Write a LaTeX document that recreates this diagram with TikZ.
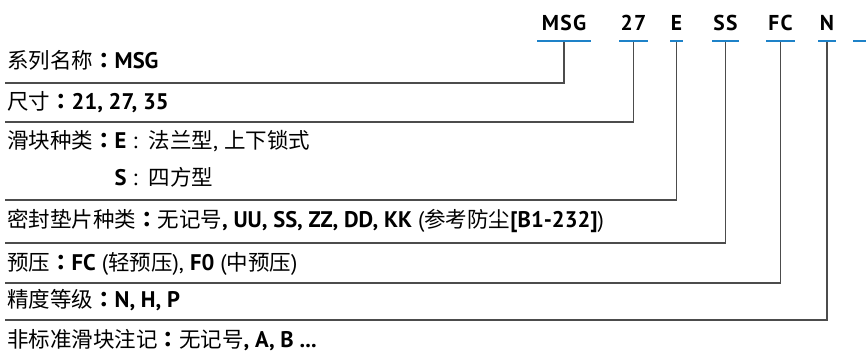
\documentclass[tikz,border=0pt]{standalone}
\usepackage{fontspec}
\setmainfont{Noto Sans CJK SC}
\newfontfamily\jpfont{Noto Sans CJK JP}
\newfontfamily\latinfont{PT Sans}[Scale=1.05]
\newfontfamily\codefont{PT Sans}[LetterSpace=6]
\newcommand\lb[1]{{\latinfont\bfseries #1}}
\newcommand\lr[1]{{\latinfont #1}}
\newcommand\cc{{\jpfont\bfseries ：}}
\usetikzlibrary{positioning}
\definecolor{codeblue}{RGB}{30,130,200}
\tikzset{code/.style={font=\fontsize{21.5}{26}\codefont\bfseries, text depth=0pt, inner sep=0pt, anchor=base},
    bar/.style={rectangle, fill=codeblue, inner sep=0pt, minimum height=2.2pt},
    leader/.style={draw=black!70, line width=1.2pt},
    row/.style={anchor=base west, inner sep=0pt}}

\begin{document}
\begin{tikzpicture}[x=1pt, y=-1pt, font=\fontsize{21.5}{26}\selectfont]
  \useasboundingbox (0,0) rectangle (866,359);

  % Code letters
  \node[code] (cMSG) at (564,30) {MSG};
  \node[code] (cSZ)  at (633.5,30) {27};
  \node[code] (cBLK) at (676.5,30) {E};
  \node[code] (cSL)  at (725.5,30) {SS};
  \node[code] (cPRE) at (780.5,30) {FC};
  \node[code] (cACC) at (827,30) {N};

  % Blue bars under the code
  \node[bar, minimum width=54pt] (uMSG) at (564,41) {};
  \node[bar, minimum width=29pt] (uSZ)  at (633.5,41) {};
  \node[bar, minimum width=13pt] (uBLK) at (676.5,41) {};
  \node[bar, minimum width=27pt] (uSL)  at (725.5,41) {};
  \node[bar, minimum width=29pt] (uPRE) at (780.5,41) {};
  \node[bar, minimum width=18pt] (uACC) at (827,41) {};
  \node[bar, minimum width=16pt] (uOPT) at (861,41) {};

  % Rows
  \node[row] (rA) at (7,68.5) {系列名称\cc\lb{MSG}};
  \node[row] (rB) at (7,109.5) {尺寸\cc\lb{21, 27, 35}};
  \node[row] (rC) at (7,148.5) {滑块种类\cc\lb{E}\lr{ :\enspace}法兰型\lr{, }上下锁式};
  \node[row] (rCS) at (7,185) {\phantom{滑块种类\cc}\lb{S}\lr{ :\enspace}四方型};
  \node[row] (rD) at (7,227) {密封垫片种类\cc 无记号\lb{, UU, SS, ZZ, DD, KK}\lr{ (}参考防尘\lb{[B1-232]}\lr{)}};
  \node[row] (rE) at (7,270) {预压\cc\lb{FC}\lr{ (}轻预压\lr{), }\lb{F0}\lr{ (}中预压\lr{)}};
  \node[row] (rF) at (7,307.5) {精度等级\cc\lb{N, H, P}};
  \node[row] (rG) at (7,347) {非标准滑块注记\cc 无记号\lb{, A, B ...}};

  % Leader ends
  \coordinate (lA) at (5,83);
  \coordinate (lB) at (5,122);
  \coordinate (lC) at (5,200);
  \coordinate (lD) at (5,243);
  \coordinate (lE) at (5,283);
  \coordinate (lF) at (5,320);

  % Leaders
  \draw[leader] (uMSG.south) |- (lA);
  \draw[leader] (uSZ.south)  |- (lB);
  \draw[leader] (uBLK.south) |- (lC);
  \draw[leader] (uSL.south)  |- (lD);
  \draw[leader] (uPRE.south) |- (lE);
  \draw[leader] (uACC.south) |- (lF);
\end{tikzpicture}
\end{document}
